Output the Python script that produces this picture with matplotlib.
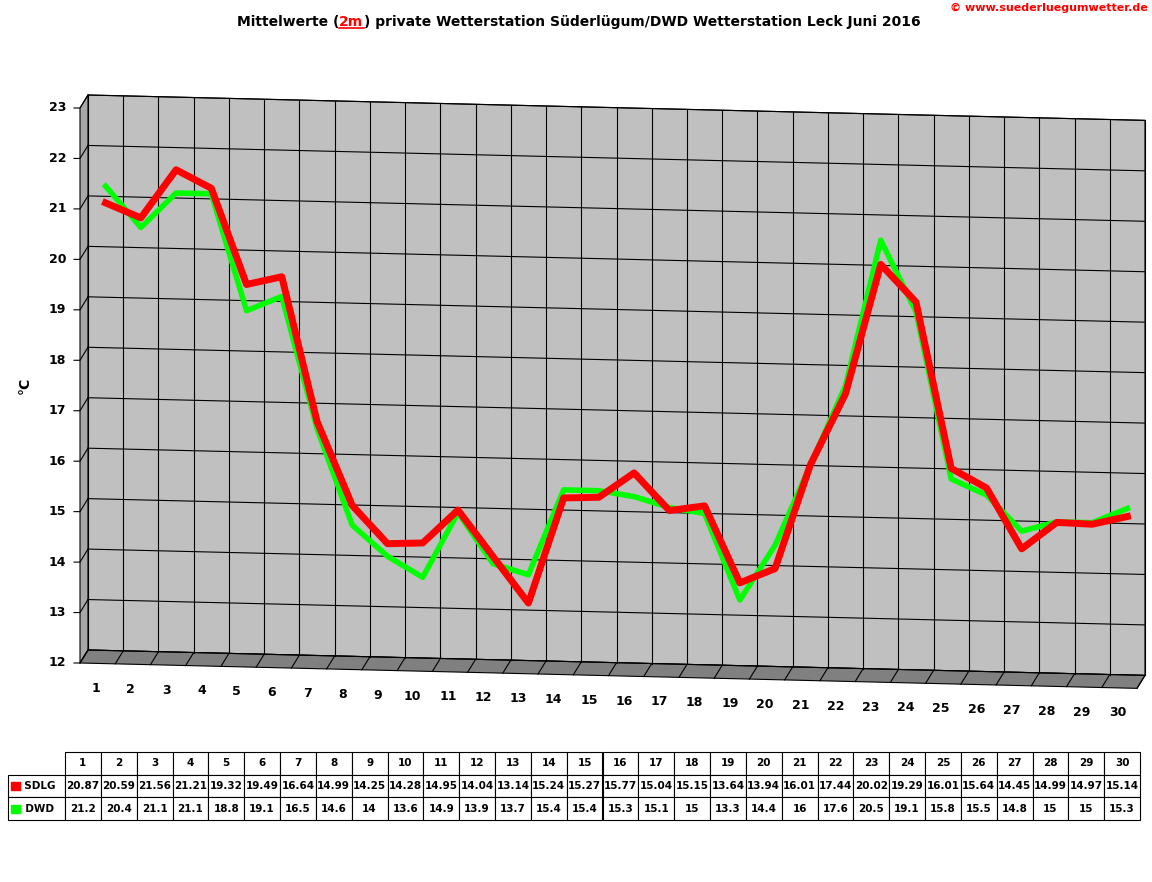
import numpy as np
import matplotlib.pyplot as plt
from matplotlib.transforms import Affine2D, IdentityTransform
from matplotlib.patches import Polygon, Rectangle

days = list(range(1, 31))
sdlg = [20.87, 20.59, 21.56, 21.21, 19.32, 19.49, 16.64, 14.99, 14.25, 14.28,
        14.95, 14.04, 13.14, 15.24, 15.27, 15.77, 15.04, 15.15, 13.64, 13.94,
        16.01, 17.44, 20.02, 19.29, 16.01, 15.64, 14.45, 14.99, 14.97, 15.14]
dwd = [21.2, 20.4, 21.1, 21.1, 18.8, 19.1, 16.5, 14.6, 14, 13.6,
       14.9, 13.9, 13.7, 15.4, 15.4, 15.3, 15.1, 15, 13.3, 14.4,
       16, 17.6, 20.5, 19.1, 15.8, 15.5, 14.8, 15, 15, 15.3]
sdlg_label = ['20.87', '20.59', '21.56', '21.21', '19.32', '19.49', '16.64', '14.99', '14.25', '14.28',
              '14.95', '14.04', '13.14', '15.24', '15.27', '15.77', '15.04', '15.15', '13.64', '13.94',
              '16.01', '17.44', '20.02', '19.29', '16.01', '15.64', '14.45', '14.99', '14.97', '15.14']
dwd_label = ['21.2', '20.4', '21.1', '21.1', '18.8', '19.1', '16.5', '14.6', '14', '13.6',
             '14.9', '13.9', '13.7', '15.4', '15.4', '15.3', '15.1', '15', '13.3', '14.4',
             '16', '17.6', '20.5', '19.1', '15.8', '15.5', '14.8', '15', '15', '15.3']
y_ticks = list(range(12, 24))

W, H = 1152, 882
fig = plt.figure(figsize=(W / 100, H / 100), dpi=100)
fig.patch.set_facecolor('white')

# back wall axes (pixel box 88..1145 x, 95..650 y from top)
ax = fig.add_axes([88 / W, 1 - 650 / H, 1057 / W, 555 / H])
ax.set_xlim(0.5, 30.5)
ax.set_ylim(12, 23)
ax.set_axis_off()
ax.set_zorder(5)

k = 0.024
x0 = 88
shear = Affine2D().translate(-x0, 0).skew(0, np.arctan(-k)).translate(x0, 0)
T = ax.transData + shear
front = T + Affine2D().translate(-8, -13)
ID = IdentityTransform()

def px(tr, x, y):
    return tr.transform((x, y))

# wall, side, floor
wall = [px(T, 0.5, 12), px(T, 30.5, 12), px(T, 30.5, 23), px(T, 0.5, 23)]
fig.patches.append(Polygon(wall, closed=True, facecolor='#c0c0c0', edgecolor='black',
                           lw=0.8, transform=ID, zorder=0))
side = [px(T, 0.5, 12), px(T, 0.5, 23), px(front, 0.5, 23), px(front, 0.5, 12)]
fig.patches.append(Polygon(side, closed=True, facecolor='#a8a8a8', edgecolor='black',
                           lw=0.8, transform=ID, zorder=0))
floor = [px(T, 0.5, 12), px(T, 30.5, 12), px(front, 30.5, 12), px(front, 0.5, 12)]
fig.patches.append(Polygon(floor, closed=True, facecolor='#808080', edgecolor='black',
                           lw=0.8, transform=ID, zorder=0))

for v in y_ticks:
    ax.plot([0.5, 30.5], [v, v], color='black', lw=0.8, transform=T, clip_on=False)
    a, b = px(T, 0.5, v), px(front, 0.5, v)
    ax.plot([a[0], b[0], b[0] - 6], [a[1], b[1], b[1]], color='black', lw=0.8,
            transform=ID, clip_on=False)
    fig.text((b[0] - 14) / W, b[1] / H, str(v), ha='right', va='center',
             fontsize=9, fontweight='bold')
for i in range(31):
    x = 0.5 + i
    ax.plot([x, x], [12, 23], color='black', lw=0.8, transform=T, clip_on=False)
    a, b = px(T, x, 12), px(front, x, 12)
    ax.plot([a[0], b[0]], [a[1], b[1]], color='black', lw=0.8, transform=ID, clip_on=False)

ax.plot(days, dwd, color='#00ff00', lw=4, transform=T, clip_on=False)
ax.plot(days, sdlg, color='#ff0000', lw=5, transform=T, clip_on=False)

for d in days:
    p = px(T, d, 12)
    fig.text((p[0] - 10) / W, (p[1] - 38) / H, str(d), ha='center', va='center',
             fontsize=9, fontweight='bold')

fig.text(25 / W, 1 - 385 / H, '°C', rotation=90, ha='center', va='center',
         fontsize=10, fontweight='bold')

# title with red underlined 2m
t1 = fig.text(237 / W, 1 - 22 / H, 'Mittelwerte (', fontsize=10, fontweight='bold', va='center')
t2 = fig.text(0, 0, '2m', fontsize=10, fontweight='bold', color='red', va='center')
t3 = fig.text(0, 0, ') private Wetterstation Süderlügum/DWD Wetterstation Leck Juni 2016',
              fontsize=10, fontweight='bold', va='center')
fig.canvas.draw()
r = fig.canvas.get_renderer()
b1 = t1.get_window_extent(r)
t2.set_position((b1.x1 / W, 1 - 22 / H))
b2 = t2.get_window_extent(r)
t3.set_position((b2.x1 / W, 1 - 22 / H))
fig.lines.append(plt.Line2D([b2.x0, b2.x1], [b2.y0 + 1, b2.y0 + 1], color='red', lw=1.2,
                            transform=ID))
fig.text(1148 / W, 1 - 8 / H, '© www.suederluegumwetter.de', color='red', fontsize=8,
         fontweight='bold', ha='right', va='center')

# table
tax = fig.add_axes([8 / W, 1 - 820 / H, 1132 / W, 68 / H])
tax.set_axis_off()
cells = [[''] + [str(d) for d in days],
         ['  SDLG'] + sdlg_label,
         ['  DWD'] + dwd_label]
colw = [57 / 1132] + [1075 / 1132 / 30] * 30
tbl = tax.table(cellText=cells, colWidths=colw, bbox=[0, 0, 1, 1], cellLoc='center')
tbl.auto_set_font_size(False)
for (rr, c), cell in tbl.get_celld().items():
    cell.set_text_props(fontsize=7.5, fontweight='bold')
    cell.set_linewidth(0.8)
    if rr == 0 and c == 0:
        cell.visible_edges = ''
for rr, col in [(1, '#ff0000'), (2, '#00ff00')]:
    yc = 1 - (rr + 0.5) / 3
    tax.add_patch(Rectangle((0.003, yc - 0.06), 0.008, 0.12, color=col,
                            transform=tax.transAxes, zorder=5))

fig.savefig('out.png', dpi=100)
